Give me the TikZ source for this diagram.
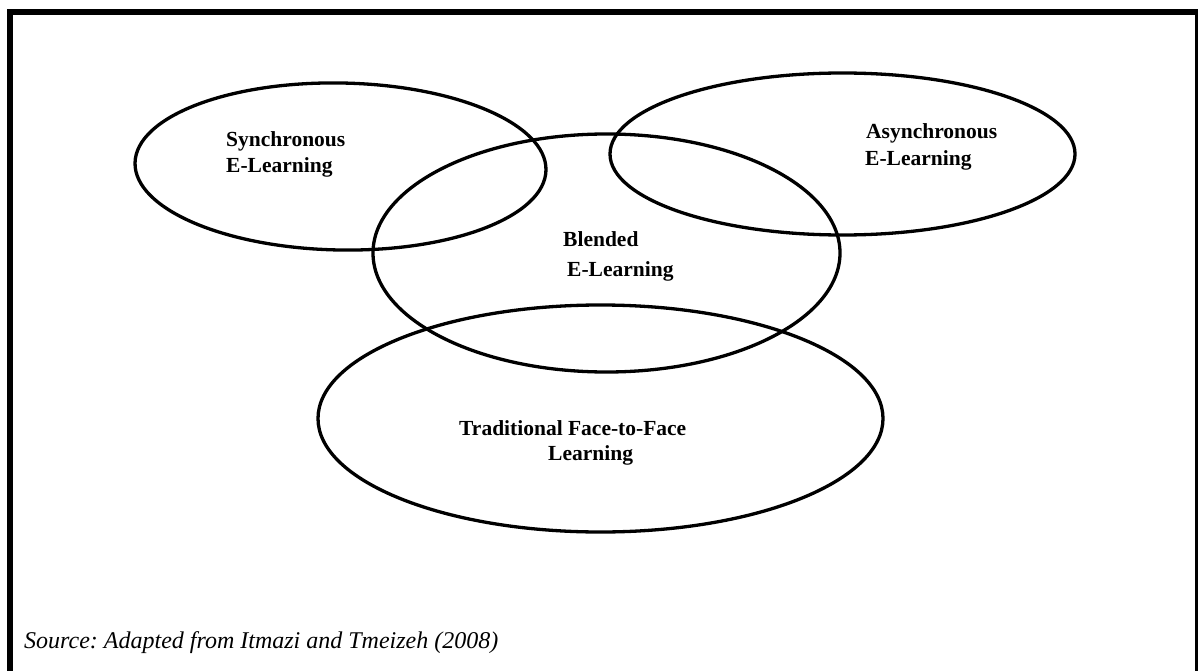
\documentclass[tikz,border=0pt]{standalone}
\usepackage{fontspec}
\setmainfont{Liberation Serif}
\usetikzlibrary{shapes.geometric}
\frenchspacing
\begin{document}
\begin{tikzpicture}[x=1pt,y=-1pt,
  ring/.style={draw=black,line width=3.3pt,ellipse,inner sep=0pt},
  lbl/.style={anchor=base west,inner sep=0pt,font=\fontsize{21.5}{26}\selectfont\bfseries},
  src/.style={anchor=base west,inner sep=0pt,font=\fontsize{24}{28}\selectfont\itshape},
  frame/.style={line width=6pt,line cap=rect}]
\useasboundingbox (0,0) rectangle (1198,671);
\begin{scope}
\clip (0,0) rectangle (1198,671);
% open frame round the figure
\coordinate (fbl) at (10.3,680);
\coordinate (ftl) at (10.3,12);
\coordinate (ftr) at (1197.5,12);
\coordinate (fbr) at (1197.5,680);
\draw[frame] (fbl) -- (ftl) -- (ftr) -- (fbr);
\end{scope}

% the four overlapping sets
\node[ring,minimum width=411pt,minimum height=167pt,rotate=-1] (sync) at (340.5,166.5) {};
\node[ring,minimum width=465pt,minimum height=162pt] (async) at (842.5,154) {};
\node[ring,minimum width=467pt,minimum height=238pt] (blend) at (606.5,253) {};
\node[ring,minimum width=565pt,minimum height=227pt] (trad) at (600.5,418.5) {};

% labels
\node[lbl] (sync1) at (226,147) {Synchronous};
\node[lbl] (sync2) at (226,173) {E-Learning};
\node[lbl] (async1) at (866,139) {Asynchronous};
\node[lbl] (async2) at (865,166) {E-Learning};
\node[lbl] (blend1) at (563,246) {Blended};
\node[lbl] (blend2) at (567,276) {E-Learning};
\node[lbl] (trad1) at (459,435) {Traditional Face-to-Face};
\node[lbl] (trad2) at (548,460) {Learning};

\node[src] (source) at (24,648) {Source: Adapted from Itmazi and Tmeizeh (2008)};
\end{tikzpicture}
\end{document}
